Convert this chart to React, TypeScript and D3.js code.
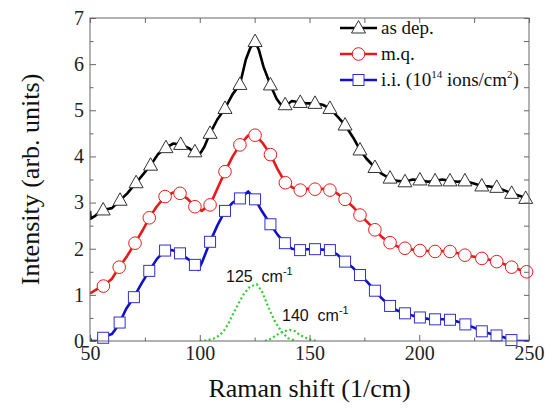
import * as d3 from 'd3';
import React, { useEffect, useRef } from 'react';

type Pt = [number, number];

// as dep. (black)
const asDepLine: Pt[] = [
  [50, 2.82], [50.3, 2.65], [52, 2.7], [54, 2.78], [56, 2.84], [60, 2.88], [63.7, 3.05], [67, 3.2],
  [71, 3.43], [74, 3.6], [77.6, 3.81], [81, 4.05], [84.6, 4.19], [88, 4.28], [91.3, 4.26], [95, 4.18],
  [97.8, 4.08], [100, 4.05], [102, 4.2], [104.7, 4.5], [108, 4.8], [111.5, 5.04], [115, 5.35],
  [118.3, 5.56], [121, 6.1], [123, 6.35], [125.2, 6.49], [127, 6.3], [129, 5.95], [132.2, 5.55],
  [135, 5.25], [137, 5.12], [139.6, 5.12], [142, 5.2], [145.8, 5.17], [149, 5.15], [152.5, 5.15],
  [156, 5.12], [159.3, 5.04], [163, 4.85], [166.2, 4.68], [170, 4.4], [173, 4.14], [176, 3.95],
  [179.8, 3.76], [183, 3.62], [186.7, 3.52], [190, 3.47], [193.5, 3.45], [197, 3.5], [200.3, 3.49],
  [204, 3.45], [207.2, 3.47], [210.5, 3.5], [214, 3.47], [217.5, 3.45], [220.8, 3.47], [224.5, 3.42],
  [228.5, 3.36], [232, 3.35], [235.3, 3.33], [238.5, 3.27], [242.1, 3.2], [245.5, 3.15], [250, 3.08],
];
const asDepMarks: Pt[] = [
  [56, 2.84], [63.7, 3.05], [71, 3.43], [77.6, 3.81], [84.6, 4.19], [91.3, 4.26], [97.8, 4.1],
  [104.7, 4.5], [111.5, 5.04], [118.3, 5.56], [125.2, 6.49], [132.2, 5.55], [138.9, 5.12],
  [145.8, 5.17], [152.5, 5.15], [159.3, 5.04], [166.2, 4.68], [173, 4.14], [179.8, 3.76],
  [186.7, 3.53], [193.5, 3.45], [200.3, 3.49], [207.2, 3.47], [214, 3.47], [220.8, 3.47],
  [228.5, 3.36], [235.3, 3.33], [242.1, 3.2], [248.5, 3.09],
];

// m.q. (red)
const mqLine: Pt[] = [
  [50, 1.03], [53, 1.12], [56.1, 1.19], [60, 1.35], [63.3, 1.6], [67, 1.85], [70.5, 2.12], [74, 2.4],
  [77, 2.67], [80.5, 2.92], [84.2, 3.13], [88, 3.22], [91, 3.2], [94.5, 3.08], [97.8, 2.91],
  [100.9, 2.82], [102.5, 2.88], [104.7, 2.95], [108, 3.3], [111.5, 3.67], [115, 4.0], [118.3, 4.25],
  [122, 4.45], [125.2, 4.46], [128.5, 4.3], [132.2, 4.04], [135.5, 3.72], [139, 3.43], [142.5, 3.32],
  [145.8, 3.27], [149, 3.3], [152.5, 3.29], [156, 3.3], [159.3, 3.27], [162.5, 3.2], [166.2, 3.07],
  [170, 2.9], [173, 2.73], [176.5, 2.57], [179.8, 2.41], [183, 2.25], [186.7, 2.13], [190, 2.05],
  [193.5, 2.01], [197, 1.98], [200.3, 1.96], [204, 1.95], [207.2, 1.94], [210.5, 1.95], [214, 1.94],
  [217.5, 1.9], [220.8, 1.86], [224.5, 1.83], [228.5, 1.79], [232, 1.76], [235.3, 1.72],
  [238.5, 1.67], [242.1, 1.6], [245.5, 1.55], [250, 1.47],
];
const mqMarks: Pt[] = [
  [56.1, 1.19], [63.3, 1.6], [70.5, 2.12], [77, 2.67], [84.2, 3.13], [91, 3.2], [97.8, 2.91],
  [104.7, 2.95], [111.5, 3.67], [118.3, 4.25], [125.2, 4.46], [132.2, 4.04], [139, 3.43],
  [145.8, 3.27], [152.5, 3.29], [159.3, 3.27], [166.2, 3.07], [173, 2.73], [179.8, 2.41],
  [186.7, 2.13], [193.5, 2.01], [200.3, 1.96], [207.2, 1.94], [214, 1.94], [220.8, 1.86],
  [228.5, 1.79], [235.3, 1.72], [242.1, 1.6], [248.9, 1.5],
];

// i.i. (blue)
const iiLine: Pt[] = [
  [50, 0.06], [50.5, 0], [53.8, 0], [54, 0.06], [57.7, 0.06], [58, 0.12], [60, 0.15], [61.5, 0.25],
  [63.5, 0.4], [66.5, 0.7], [70, 0.95], [73.5, 1.25], [77, 1.52], [80.5, 1.78], [84.2, 1.96],
  [87.5, 1.97], [91, 1.9], [94.5, 1.78], [97.8, 1.65], [99.4, 1.54], [101, 1.7], [104.7, 2.15],
  [108, 2.5], [111.5, 2.82], [115, 3.0], [118.3, 3.09], [122.1, 3.24], [125.2, 3.07], [128.5, 2.8],
  [132.2, 2.53], [135.5, 2.3], [138.8, 2.12], [142, 2.0], [145.7, 1.97], [149, 1.99], [152.5, 1.99],
  [156, 1.98], [159.3, 1.97], [162.5, 1.88], [166.2, 1.72], [169.5, 1.6], [173, 1.43], [176.5, 1.27],
  [179.8, 1.09], [183, 0.92], [186.7, 0.76], [190, 0.66], [193.5, 0.6], [197, 0.55], [200.3, 0.51],
  [204, 0.48], [207.2, 0.47], [210.5, 0.47], [214, 0.46], [217.5, 0.42], [221, 0.36], [224.5, 0.3],
  [228.5, 0.21], [232, 0.16], [235.2, 0.12], [238.5, 0.08], [241, 0.03], [242, 0], [250, 0],
];
const iiMarks: Pt[] = [
  [56, 0.07], [63.5, 0.4], [70, 0.95], [77, 1.52], [84.2, 1.96], [91, 1.9], [97.8, 1.65],
  [104.7, 2.15], [111.5, 2.82], [118.3, 3.09], [125.2, 3.07], [132.2, 2.53], [138.8, 2.12],
  [145.7, 1.97], [152.5, 1.99], [159.3, 1.97], [166.2, 1.72], [173, 1.43], [179.8, 1.09],
  [186.7, 0.76], [193.5, 0.6], [200.3, 0.51], [207.2, 0.47], [214, 0.46], [221, 0.36],
  [228.5, 0.21], [235.2, 0.12], [242, 0.02],
];

// fitted components (green dotted)
const peak125: Pt[] = [
  [100, 0], [103, 0.01], [106.2, 0.05], [108.5, 0.11], [110.7, 0.2], [113, 0.37], [115.3, 0.6],
  [117.5, 0.8], [119.8, 1.0], [122.9, 1.18], [126, 1.23], [128.3, 1.08], [130.5, 0.82], [132.5, 0.6],
  [134.3, 0.42], [137.3, 0.2], [140.3, 0.06], [144, 0],
];
const peak140: Pt[] = [
  [129.7, 0], [132.5, 0.05], [135, 0.13], [138, 0.21], [141.1, 0.24], [143.5, 0.21], [145.7, 0.13],
  [149.5, 0.04], [153, 0],
];

const xTicks = [50, 100, 150, 200, 250];
const xMinor = [75, 125, 175, 225];
const yTicks = [0, 1, 2, 3, 4, 5, 6, 7];
const yMinor = [0.5, 1.5, 2.5, 3.5, 4.5, 5.5, 6.5];

const W = 545;
const H = 412;
const margin = { top: 18, right: 16, bottom: 71, left: 90 };
const serif = "'Liberation Serif', 'Times New Roman', serif";
const sans = "'Liberation Sans', Arial, sans-serif";

export default function App() {
  const svgRef = useRef<SVGSVGElement | null>(null);

  useEffect(() => {
    const svg = d3.select(svgRef.current);
    svg.selectAll('*').remove();

    const x = d3.scaleLinear().domain([50, 250]).range([margin.left, W - margin.right]);
    const y = d3.scaleLinear().domain([0, 7]).range([H - margin.bottom, margin.top]);
    const x0 = margin.left, x1 = W - margin.right, y0 = H - margin.bottom, y1 = margin.top;

    svg.append('rect').attr('width', W).attr('height', H).attr('fill', '#fff');

    const clip = svg.append('defs').append('clipPath').attr('id', 'plot');
    clip.append('rect').attr('x', x0).attr('y', y1).attr('width', x1 - x0).attr('height', y0 - y1);

    const line = d3.line<Pt>().x(d => x(d[0])).y(d => y(d[1]));
    const plot = svg.append('g').attr('clip-path', 'url(#plot)');

    // green fitted peaks
    [peak125, peak140].forEach(p => {
      plot.append('path').datum(p).attr('d', line).attr('fill', 'none')
        .attr('stroke', '#33cc33').attr('stroke-width', 2.2).attr('stroke-dasharray', '2,2.5');
    });

    const series = [
      { line: asDepLine, marks: asDepMarks, color: '#000000', mark: 'tri', mstroke: '#333' },
      { line: mqLine, marks: mqMarks, color: '#e8191a', mark: 'circ', mstroke: '#e8191a' },
      { line: iiLine, marks: iiMarks, color: '#1010cc', mark: 'sq', mstroke: '#3030cc' },
    ];

    const drawMark = (g: any, kind: string, cx: number, cy: number, stroke: string) => {
      if (kind === 'tri') {
        g.append('path').attr('d', `M${cx},${cy - 7.5}L${cx + 7},${cy + 5}L${cx - 7},${cy + 5}Z`)
          .attr('fill', '#fff').attr('stroke', stroke).attr('stroke-width', 1);
      } else if (kind === 'circ') {
        g.append('circle').attr('cx', cx).attr('cy', cy).attr('r', 6.3)
          .attr('fill', '#fff').attr('stroke', stroke).attr('stroke-width', 1);
      } else {
        g.append('rect').attr('x', cx - 5.5).attr('y', cy - 5.5).attr('width', 11).attr('height', 11)
          .attr('fill', '#fff').attr('stroke', stroke).attr('stroke-width', 1);
      }
    };

    series.forEach(s => {
      plot.append('path').datum(s.line).attr('d', line).attr('fill', 'none')
        .attr('stroke', s.color).attr('stroke-width', 2.6).attr('stroke-linejoin', 'round');
      const mg = svg.append('g');
      s.marks.forEach(m => drawMark(mg, s.mark, x(m[0]), y(m[1]), s.mstroke));
    });

    // frame + ticks
    const axisColor = '#666';
    const styleAxis = (g: any) => {
      g.select('.domain').remove();
      g.selectAll('.tick line').attr('stroke', axisColor);
      g.selectAll('text').attr('font-family', serif).attr('font-size', 20).attr('fill', '#222');
    };
    svg.append('g').attr('transform', `translate(0,${y0})`)
      .call(d3.axisBottom(x).tickValues(xTicks).tickSize(-6).tickPadding(5).tickFormat(d3.format('d')))
      .call(styleAxis);
    svg.append('g').attr('transform', `translate(0,${y0})`)
      .call(d3.axisBottom(x).tickValues(xMinor).tickSize(-3.5).tickFormat(() => '')).call(styleAxis);
    svg.append('g').attr('transform', `translate(0,${y1})`)
      .call(d3.axisTop(x).tickValues(xTicks.concat(xMinor)).tickSize(-5).tickFormat(() => '')).call(styleAxis);
    svg.append('g').attr('transform', `translate(${x0},0)`)
      .call(d3.axisLeft(y).tickValues(yTicks).tickSize(-6).tickPadding(6).tickFormat(d3.format('d')))
      .call(styleAxis);
    svg.append('g').attr('transform', `translate(${x0},0)`)
      .call(d3.axisLeft(y).tickValues(yMinor).tickSize(-3.5).tickFormat(() => '')).call(styleAxis);
    svg.append('g').attr('transform', `translate(${x1},0)`)
      .call(d3.axisRight(y).tickValues(yTicks.concat(yMinor)).tickSize(-5).tickFormat(() => '')).call(styleAxis);

    svg.append('rect').attr('x', x0).attr('y', y1).attr('width', x1 - x0).attr('height', y0 - y1)
      .attr('fill', 'none').attr('stroke', axisColor).attr('stroke-width', 1);

    // peak labels
    const peakLabel = (tx: number, ty: number, num: string) => {
      const t = svg.append('text').attr('x', tx).attr('y', ty).attr('font-family', sans)
        .attr('font-size', 16).attr('fill', '#111');
      t.append('tspan').text(`${num}\u00a0\u00a0cm`);
      t.append('tspan').attr('dy', -7).attr('font-size', 11).text('-1');
    };
    peakLabel(226, 282, '125');
    peakLabel(282, 321, '140');

    // legend
    const legendRows = [
      { s: series[0], y: 28, label: ['as dep.'] },
      { s: series[1], y: 54, label: ['m.q.'] },
      { s: series[2], y: 80, label: ['i.i. (10', '14', ' ions/cm', '2', ')'] },
    ];
    legendRows.forEach(r => {
      const g = svg.append('g');
      g.append('line').attr('x1', 340).attr('x2', 377).attr('y1', r.y).attr('y2', r.y)
        .attr('stroke', r.s.color).attr('stroke-width', 2.6);
      drawMark(g, r.s.mark, 358.5, r.y, r.s.mstroke);
      const t = g.append('text').attr('x', 381).attr('y', r.y + 6).attr('font-family', serif)
        .attr('font-size', 19).attr('fill', '#111');
      r.label.forEach((part, i) => {
        const sup = i % 2 === 1;
        t.append('tspan').attr('font-size', sup ? 11 : 19).attr('dy', sup ? -8 : (i > 0 ? 8 : 0)).text(part);
      });
    });

    // axis titles
    svg.append('text').attr('x', (x0 + x1) / 2).attr('y', 397).attr('text-anchor', 'middle')
      .attr('font-family', serif).attr('font-size', 26).attr('fill', '#111').text('Raman shift (1/cm)');
    svg.append('text').attr('transform', `translate(39,${(y0 + y1) / 2}) rotate(-90)`)
      .attr('text-anchor', 'middle').attr('font-family', serif).attr('font-size', 26).attr('fill', '#111')
      .text('Intensity (arb. units)');
  }, []);

  return (
    <svg ref={svgRef} width={W} height={H}
      style={{ position: 'absolute', left: 0, top: 0, display: 'block' }} />
  );
}
